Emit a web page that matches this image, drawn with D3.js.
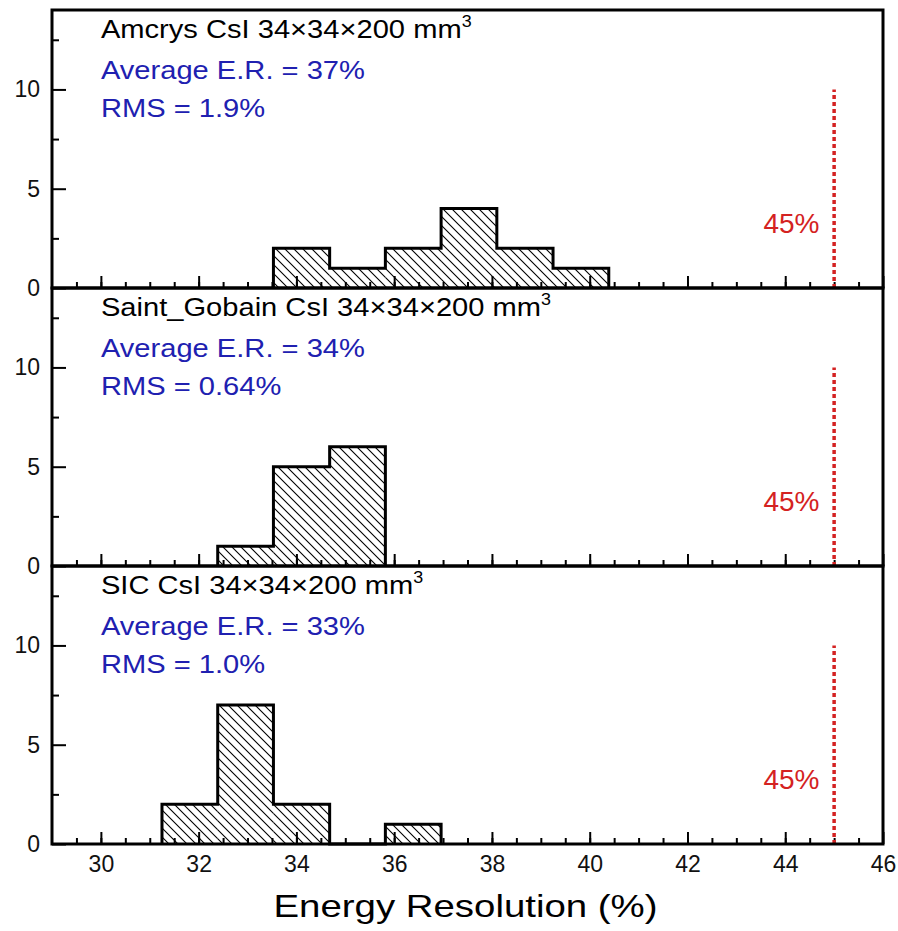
<!DOCTYPE html>
<html><head><meta charset="utf-8">
<script src="https://cdn.jsdelivr.net/npm/d3@7"></script>
<style>
body{margin:0;background:#fff;}
text{font-family:"Liberation Sans",Arial,Helvetica,sans-serif;}
</style>
</head><body>
<svg id="c" width="898" height="931"></svg>
<script>
// ---- data ----
const binEdges = [31.25, 32.39, 33.53, 34.68, 35.82, 36.96, 38.10, 39.25, 40.39];
const amcrysCounts      = [0, 0, 2, 1, 2, 4, 2, 1];
const saintGobainCounts = [0, 1, 5, 6, 0, 0, 0, 0];
const sicCounts         = [2, 7, 2, 0, 1, 0, 0, 0];
const panelNames = ["Amcrys CsI 34\u00D734\u00D7200 mm", "Saint_Gobain CsI 34\u00D734\u00D7200 mm", "SIC CsI 34\u00D734\u00D7200 mm"];
const averageLabels = ["Average E.R. = 37%", "Average E.R. = 34%", "Average E.R. = 33%"];
const rmsLabels = ["RMS = 1.9%", "RMS = 0.64%", "RMS = 1.0%"];
const xMajorTicks = [30, 32, 34, 36, 38, 40, 42, 44, 46];
const xMinorTicks = d3.range(29.5, 46, 0.5);
const yMajorTicks = [0, 5, 10];
const yMinorTicks = [2.5, 7.5, 12.5];
const thresholdValue = 45;
const thresholdTop = 10;
const thresholdLabel = "45%";
const xTitle = "Energy Resolution (%)";

const panelCounts = [amcrysCounts, saintGobainCounts, sicCounts];

// ---- layout ----
const svg = d3.select("#c");
const left = 52, right = 883, top0 = 10, panelH = 278;
const x = d3.scaleLinear().domain([29, 46]).range([left, right]);
const blue = "#2020b0", red = "#d42222";

const defs = svg.append("defs");
defs.append("pattern").attr("id", "hatch").attr("patternUnits", "userSpaceOnUse")
  .attr("width", 9).attr("height", 9)
  .append("path").attr("d", "M-1,-1 L10,10 M-1,8 L1,10 M8,-1 L10,1")
  .attr("stroke", "#000").attr("stroke-width", 1.1);

panelCounts.forEach((counts, p) => {
  const pTop = top0 + p * panelH, pBot = pTop + panelH;
  const y = d3.scaleLinear().domain([0, 14]).range([pBot, pTop]);
  const g = svg.append("g");

  // hatched bins
  const bins = counts.map((c, i) => ({x0: binEdges[i], x1: binEdges[i + 1], c}));
  g.selectAll("rect.bin").data(bins.filter(b => b.c > 0)).join("rect")
    .attr("x", d => x(d.x0)).attr("width", d => x(d.x1) - x(d.x0))
    .attr("y", d => y(d.c)).attr("height", d => y(0) - y(d.c))
    .attr("fill", "url(#hatch)");

  // step outline
  let first = counts.findIndex(c => c > 0);
  let last = counts.length - 1 - [...counts].reverse().findIndex(c => c > 0);
  const pts = [[binEdges[first], 0]];
  for (let i = first; i <= last; i++) {
    pts.push([binEdges[i], counts[i]]);
    pts.push([binEdges[i + 1], counts[i]]);
  }
  pts.push([binEdges[last + 1], 0]);
  g.append("path").datum(pts)
    .attr("d", d3.line().x(d => x(d[0])).y(d => y(d[1])))
    .attr("fill", "none").attr("stroke", "#000").attr("stroke-width", 3)
    .attr("stroke-linejoin", "miter");

  // x ticks (inward)
  const xMinor = g.append("g").attr("transform", `translate(0,${pBot})`)
    .call(d3.axisBottom(x).tickValues(xMinorTicks).tickSize(-6).tickFormat(""));
  const xMajor = g.append("g").attr("transform", `translate(0,${pBot})`)
    .call(d3.axisBottom(x).tickValues(xMajorTicks).tickSize(-12).tickPadding(12)
      .tickFormat(p === 2 ? d3.format("d") : ""));
  [xMinor, xMajor].forEach(a => {
    a.select(".domain").remove();
    a.selectAll(".tick line").attr("stroke", "#000").attr("stroke-width", 2);
  });
  xMajor.selectAll(".tick text").attr("font-size", 23).attr("fill", "#111")
    .attr("font-family", "Liberation Sans, Arial, sans-serif");

  // y ticks (inward)
  const yMinor = g.append("g").attr("transform", `translate(${left},0)`)
    .call(d3.axisLeft(y).tickValues(yMinorTicks).tickSize(-7).tickFormat(""));
  const yMajor = g.append("g").attr("transform", `translate(${left},0)`)
    .call(d3.axisLeft(y).tickValues(yMajorTicks).tickSize(-14).tickPadding(12).tickFormat(d3.format("d")));
  [yMinor, yMajor].forEach(a => {
    a.select(".domain").remove();
    a.selectAll(".tick line").attr("stroke", "#000").attr("stroke-width", 2);
  });
  yMajor.selectAll(".tick text").attr("font-size", 23).attr("fill", "#111")
    .attr("font-family", "Liberation Sans, Arial, sans-serif");

  // threshold
  g.append("line").attr("x1", x(thresholdValue)).attr("x2", x(thresholdValue))
    .attr("y1", y(0)).attr("y2", y(thresholdTop))
    .attr("stroke", red).attr("stroke-width", 3.5).attr("stroke-dasharray", "4,3");
  g.append("text").attr("x", x(44.7)).attr("y", pBot - 55)
    .attr("text-anchor", "end").attr("font-size", 28).attr("fill", red).text(thresholdLabel);

  // labels
  const sx = 1.12;
  const t1 = g.append("text").attr("transform", `translate(${x(30)},${pTop + 28}) scale(${sx},1)`)
    .attr("font-size", 26).attr("fill", "#000");
  t1.append("tspan").text(panelNames[p]);
  t1.append("tspan").attr("dy", -11).attr("font-size", 16).text("3");
  g.append("text").attr("transform", `translate(${x(30)},${pTop + 69}) scale(${sx},1)`)
    .attr("font-size", 26).attr("fill", blue).text(averageLabels[p]);
  g.append("text").attr("transform", `translate(${x(30)},${pTop + 107}) scale(${sx},1)`)
    .attr("font-size", 26).attr("fill", blue).text(rmsLabels[p]);

  // panel frame
  g.append("rect").attr("x", left).attr("y", pTop).attr("width", right - left).attr("height", panelH)
    .attr("fill", "none").attr("stroke", "#000").attr("stroke-width", 3);
});

// x title
svg.append("text").attr("transform", `translate(${(left + right) / 2 - 2},917) scale(1.2,1)`)
  .attr("text-anchor", "middle").attr("font-size", 32).attr("fill", "#000").text(xTitle);
</script>
</body></html>
